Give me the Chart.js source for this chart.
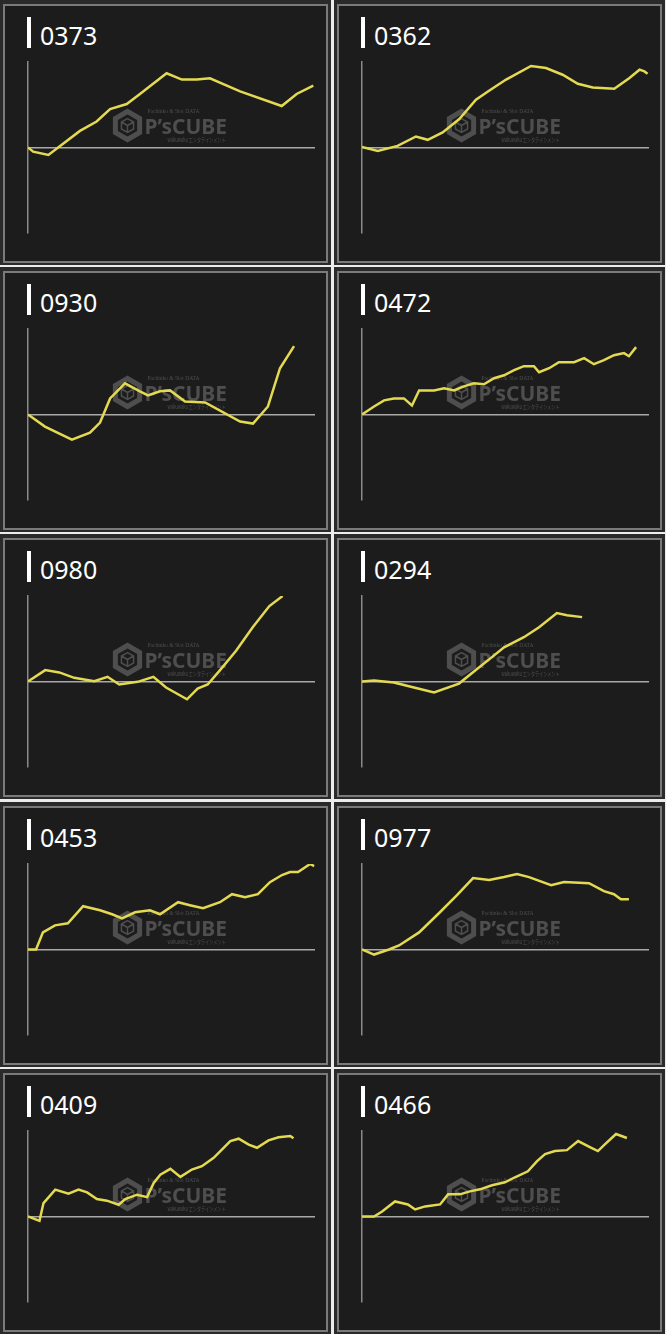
<!DOCTYPE html>
<html>
<head>
<meta charset="utf-8">
<script src="https://cdn.jsdelivr.net/npm/chart.js@4/dist/chart.umd.min.js"></script>
<style>
html, body { margin: 0; padding: 0; background: #ececec; }
#grid { position: relative; width: 666px; height: 1334px; overflow: hidden; }
.cell { position: absolute; width: 331px; height: 265px; background: #2a2a2a; }
.panel { position: absolute; left: 3px; top: 4px; width: 321px; height: 255px; border: 2px solid #7a7a7a; background: #1c1c1c; }
.bar { position: absolute; left: 27px; top: 17px; width: 4px; height: 31px; background: #ffffff; }
.title { position: absolute; left: 40px; top: 23px; font: 25px/25px "Noto Sans", sans-serif; color: #ffffff; }
.cell canvas { position: absolute; left: 0; top: 0; }
</style>
</head>
<body>
<div id="grid"></div>
<script>
// machine numbers, left to right, top to bottom
const titles = ['0373', '0362', '0930', '0472', '0980', '0294', '0453', '0977', '0409', '0466'];

// x: share of the game axis (0-100), y: coin difference (-100..100 of axis)
const x0373 = [0, 1.8, 7.1, 18.1, 23.9, 28.6, 34.4, 39.0, 48.3, 53.6, 58.8, 63.4, 73.9, 88.4, 93.6, 99.4];
const y0373 = [0, -4.9, -8.8, 19.4, 30.4, 44.9, 50.8, 62.6, 86.8, 79.4, 79.4, 80.9, 65.6, 48.5, 62.6, 72.4];

const x0362 = [0, 5.5, 12.4, 18.8, 22.9, 28.1, 33.9, 39.7, 44.4, 50.2, 58.9, 64.1, 69.9, 75.2, 80.4, 87.9, 93.2, 96.7, 98.4, 99.5];
const y0362 = [0.7, -4.0, 1.9, 12.9, 9.0, 17.6, 33.3, 56, 66.6, 79.5, 95.3, 92.9, 85.1, 74.5, 70.1, 68.6, 81.2, 91, 89, 86.3];

const x0930 = [0, 5.9, 15.3, 21.6, 25.1, 28.6, 33.8, 39.0, 41.8, 46.0, 49.5, 54.7, 61.7, 73.9, 78.4, 83.6, 87.8, 92.7];
const y0930 = [0, -14.1, -29.4, -21.2, -9.4, 18.8, 36.5, 27.1, 22.4, 27.1, 28.2, 15.3, 14.1, -8.2, -10.6, 9.4, 54.1, 80.0];

const x0472 = [0, 4.2, 7.7, 11.1, 14.6, 17.4, 19.9, 25.1, 28.6, 32.1, 35.5, 39.0, 42.5, 46.0, 49.5, 53.0, 56.4, 59.9, 61.7, 65.2, 68.6, 73.9, 77.4, 80.8, 84.3, 87.8, 91.3, 93.0, 95.5];
const y0472 = [0, 9.4, 16.5, 18.8, 18.8, 10.6, 28.2, 28.2, 30.6, 28.2, 32.9, 36.5, 35.3, 42.4, 45.9, 51.8, 56.5, 56.5, 49.4, 54.1, 61.2, 61.2, 65.9, 58.8, 63.5, 69.4, 71.8, 68.2, 78.8];

const x0980 = [0, 6.0, 10.9, 16.1, 23.1, 27.7, 31.8, 38.2, 43.7, 48.1, 55.4, 59.1, 62.6, 66.7, 72.5, 78.3, 84.1, 88.7];
const y0980 = [0, 13.3, 10.6, 4.3, 0.4, 5.5, -3.5, -0.4, 5.5, -7.1, -20.8, -8.2, -3.5, 12.5, 36, 63.5, 88.2, 100];

const x0294 = [0, 4.2, 11.1, 18.1, 25.1, 33.8, 39.0, 44.3, 49.5, 56.4, 61.7, 67.9, 71.4, 76.7];
const y0294 = [0, 1.2, -1.2, -7.1, -12.9, -2.4, 11.8, 25.9, 40, 51.8, 63.5, 80, 77.6, 75.3];

const x0453 = [0, 2.8, 5.2, 9.4, 13.9, 19.2, 25.1, 29.3, 32.8, 37.3, 42.5, 46.0, 52.3, 56.4, 61.0, 66.9, 71.1, 75.6, 80.1, 84.3, 88.5, 91.3, 94.1, 98.3, 99.7];
const y0453 = [0, 0, 20, 28.2, 30.6, 50.6, 45.9, 41.2, 36.5, 43.5, 45.9, 41.2, 55.3, 51.8, 48.2, 55.3, 64.7, 61.2, 64.7, 78.8, 87.1, 90.6, 90.6, 100, 97.6];

const x0977 = [0, 4.2, 9.4, 12.9, 19.9, 26.8, 33.1, 38.7, 44.3, 49.5, 54.0, 58.2, 65.9, 70.4, 79.1, 84.3, 87.8, 90.2, 93.0];
const y0977 = [0, -5.9, 0, 4.7, 20, 42.4, 63.5, 83.5, 81.2, 84.7, 88.2, 84.7, 75.3, 78.8, 77.6, 68.2, 64.7, 58.8, 58.8];

const x0409 = [0, 4.0, 5.4, 9.5, 14.1, 17.6, 20.6, 24.0, 27.5, 31.6, 33.9, 38.0, 41.5, 43.8, 46.1, 49.6, 53.1, 57.1, 60.6, 64.7, 70.5, 73.4, 76.9, 79.8, 83.8, 87.3, 91.4, 92.5];
const y0409 = [0, -5.1, 15.7, 31.4, 26.7, 31.4, 28.2, 20.4, 18.5, 13.7, 20.4, 25.5, 22.7, 39.2, 49, 55.7, 46.3, 54.9, 58.8, 68.7, 88.2, 91, 84, 80.4, 89, 92.6, 94.1, 91.4];

const x0466 = [0, 4.2, 7.0, 11.5, 16.0, 18.5, 22.0, 27.2, 30.0, 34.1, 37.6, 41.1, 45.3, 49.8, 53.3, 57.8, 61.0, 63.8, 67.2, 71.4, 75.3, 79.4, 82.2, 84.7, 88.5, 92.3];
const y0466 = [0, 0, 5.9, 17.6, 14.1, 8.2, 11.8, 14.1, 25.9, 25.9, 29.4, 31.8, 36.5, 40, 45.9, 52.9, 64.7, 72.9, 76.5, 77.6, 88.2, 81.2, 76.5, 84.7, 96.5, 91.8];

const seriesX = [x0373, x0362, x0930, x0472, x0980, x0294, x0453, x0977, x0409, x0466];
const seriesY = [y0373, y0362, y0930, y0472, y0980, y0294, y0453, y0977, y0409, y0466];

// squeeze a text into a given width
function fitText(ctx, text, x, y, width) {
    const w = ctx.measureText(text).width;
    ctx.save();
    ctx.translate(x, y);
    ctx.scale(Math.min(1, width / w), 1);
    ctx.fillText(text, 0, 0);
    ctx.restore();
}

function hexPath(ctx, x, y, r) {
    ctx.beginPath();
    for (let i = 0; i < 6; i++) {
        const ang = Math.PI / 6 + i * Math.PI / 3;
        const px = x + r * Math.cos(ang), py = y + r * Math.sin(ang);
        if (i === 0) ctx.moveTo(px, py); else ctx.lineTo(px, py);
    }
    ctx.closePath();
}

// faint site logo behind each line
const watermark = {
    id: 'watermark',
    beforeDatasetsDraw(chart) {
        const ctx = chart.ctx;
        const a = chart.chartArea;
        const cx = (a.left + a.right) / 2 - 1;
        const cy = chart.scales.y.getPixelForValue(0) - 22;
        const hx = cx - 43;
        ctx.save();
        ctx.strokeStyle = '#4e4e4e';
        ctx.fillStyle = '#4e4e4e';
        // hexagon icon
        ctx.lineWidth = 5;
        hexPath(ctx, hx, cy, 14);
        ctx.stroke();
        ctx.lineWidth = 1.5;
        hexPath(ctx, hx, cy, 7);
        ctx.moveTo(hx, cy);
        ctx.lineTo(hx, cy + 7);
        ctx.moveTo(hx, cy);
        ctx.lineTo(hx - 6, cy - 3.5);
        ctx.moveTo(hx, cy);
        ctx.lineTo(hx + 6, cy - 3.5);
        ctx.stroke();
        // text
        ctx.textBaseline = 'alphabetic';
        ctx.font = 'bold 21px "Noto Sans", sans-serif';
        fitText(ctx, "P’sCUBE", hx + 17, cy + 8, 84);
        ctx.font = '6px "Liberation Serif", serif';
        fitText(ctx, 'Pachinko & Slot DATA', hx + 20, cy - 13, 52);
        ctx.font = '6px "Noto Sans CJK JP", sans-serif';
        fitText(ctx, 'wakuwaku エンタテインメント', hx + 40, cy + 16, 58);
        ctx.restore();
    }
};

const grid = document.getElementById('grid');

titles.forEach(function (title, i) {
    const row = Math.floor(i / 2);
    const col = i % 2;

    const cell = document.createElement('div');
    cell.className = 'cell';
    cell.style.left = (col === 0 ? 0 : 334) + 'px';
    cell.style.top = Math.round(row * 267.2) + 'px';
    cell.innerHTML = '<div class="panel"></div><div class="bar"></div><div class="title">' + title + '</div>';
    const canvas = document.createElement('canvas');
    canvas.width = 331;
    canvas.height = 265;
    cell.appendChild(canvas);
    grid.appendChild(cell);

    const xs = seriesX[i];
    const ys = seriesY[i];

    new Chart(canvas.getContext('2d'), {
        type: 'line',
        data: {
            datasets: [{
                data: xs.map((x, k) => ({ x: x, y: ys[k] })),
                borderColor: '#e4da52',
                borderWidth: 2.5,
                pointRadius: 0,
                tension: 0,
                fill: false
            }]
        },
        options: {
            responsive: false,
            animation: false,
            devicePixelRatio: 1,
            layout: { padding: { left: 28, right: 16, top: 62, bottom: 32 } },
            plugins: { legend: { display: false }, tooltip: { enabled: false } },
            scales: {
                x: { type: 'linear', min: 0, max: 100, display: false },
                y: {
                    min: -100,
                    max: 100,
                    ticks: { display: false, stepSize: 100 },
                    grid: {
                        drawTicks: false,
                        lineWidth: 1.5,
                        color: c => c.tick && c.tick.value === 0 ? '#a9a9a9' : 'rgba(0,0,0,0)'
                    },
                    border: { display: true, color: '#8a8a8a', width: 1.5 }
                }
            }
        },
        plugins: [watermark]
    });
});
</script>
</body>
</html>
